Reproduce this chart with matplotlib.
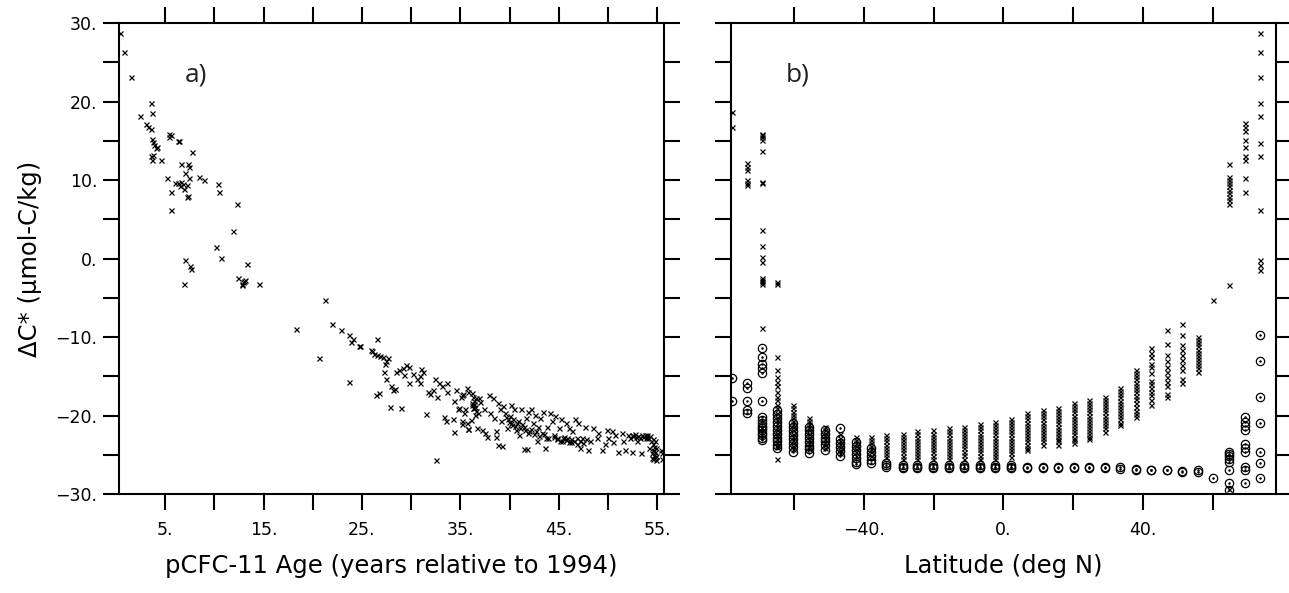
import matplotlib
matplotlib.use('Agg')
import matplotlib.pyplot as plt
from matplotlib.ticker import MultipleLocator, FuncFormatter

plt.rcParams['font.family'] = ['DejaVu Sans']

# panel a: (pCFC-11 age, delta C*) pairs
pts_young = [(0.4, 28.7), (0.8, 26.3), (1.5, 23.1), (2.4, 18.1), (3.0, 17.1), (3.3, 16.8),
             (3.55, 16.5), (3.6, 19.8), (3.7, 18.6), (3.65, 15.2), (3.75, 14.8), (3.9, 14.5),
             (4.05, 14.1), (4.15, 14.2), (3.8, 13.2), (3.55, 13.0), (3.65, 12.5), (4.55, 12.6),
             (5.35, 15.9), (5.6, 15.7), (5.4, 15.5), (6.25, 15.0), (6.4, 15.0), (7.7, 13.6),
             (6.6, 12.1), (7.35, 12.1), (7.45, 11.6), (7.05, 10.9), (5.15, 10.2), (6.0, 9.6),
             (6.3, 9.6), (6.6, 9.7), (6.8, 9.5), (6.5, 9.3), (7.2, 9.4), (7.45, 10.2),
             (8.4, 10.4), (8.95, 10.0), (10.4, 9.5), (10.5, 8.5), (5.6, 8.5), (6.9, 8.9),
             (7.25, 7.9), (7.3, 8.0), (5.6, 6.2), (12.3, 7.0), (11.85, 3.5), (10.2, 1.5),
             (10.65, 0.1), (7.05, -0.2), (7.55, -1.0), (7.6, -1.3), (13.3, -0.7), (6.95, -3.3),
             (12.35, -2.5), (12.8, -3.2), (12.9, -3.0), (13.0, -2.9), (12.85, -3.4), (13.1, -2.8),
             (14.5, -3.2)]

pts_mid = [(21.2, -5.3), (18.3, -9.0), (20.6, -12.7), (22.0, -8.3), (22.9, -9.1), (23.7, -9.7),
           (23.9, -10.6), (24.1, -10.3), (24.75, -11.1), (24.8, -11.2), (26.5, -10.3), (23.7, -15.7),
           (25.9, -11.7), (26.0, -11.8), (26.2, -12.2), (26.5, -12.3), (26.8, -12.4), (27.1, -12.6),
           (27.4, -13.0), (27.6, -12.7), (27.3, -13.4), (27.2, -14.4), (27.4, -15.3), (28.0, -16.2),
           (28.2, -16.8), (26.7, -17.1), (26.4, -17.4), (28.4, -16.6), (27.8, -18.9), (29.0, -19.0),
           (28.5, -14.4), (28.8, -14.2), (29.2, -13.9), (29.5, -13.6), (29.8, -13.8), (29.3, -14.8),
           (29.8, -15.9), (30.2, -14.7), (30.6, -15.4), (30.9, -15.0), (31.0, -14.1), (31.2, -14.5),
           (30.9, -15.8), (31.5, -19.8), (31.7, -17.0), (31.9, -17.3), (32.2, -16.8), (32.4, -15.4),
           (32.6, -17.7), (32.8, -15.8), (33.1, -16.3), (33.6, -15.8), (33.6, -17.0), (32.5, -25.7),
           (33.3, -20.2), (33.5, -20.7), (34.3, -20.5), (34.4, -22.1), (34.6, -16.8), (35.1, -17.6),
           (35.3, -17.2), (35.7, -16.5), (34.4, -18.1), (34.8, -19.2), (34.9, -19.0), (35.4, -19.7),
           (35.2, -21.1), (35.8, -21.7)]

pts_old = [(36.1, -20.6), (36.2, -18.7), (36.3, -19.0), (36.4, -18.5), (36.6, -17.8), (36.8, -19.7),
           (35.15, -17.4), (35.8, -17.0), (36.2, -17.1), (35.5, -19.2), (35.15, -20.7), (35.7, -20.9),
           (35.8, -21.7), (36.2, -18.4), (36.4, -19.0), (36.5, -19.9), (36.9, -17.8), (37.0, -18.3),
           (37.4, -19.2), (36.7, -21.6), (37.2, -21.8), (37.5, -22.2), (37.7, -22.7), (37.9, -17.4),
           (38.3, -17.8), (38.0, -19.7), (38.4, -20.3), (38.6, -22.0), (38.6, -22.7), (38.8, -18.4),
           (39.0, -19.2), (39.1, -20.7), (39.3, -18.8), (39.5, -19.7), (39.7, -21.6), (39.8, -20.5),
           (40.0, -20.1), (40.2, -18.6), (40.3, -21.2), (40.5, -19.2), (40.7, -21.8), (40.9, -20.7),
           (41.0, -22.5), (41.2, -19.2), (38.8, -23.8), (39.2, -23.9), (41.5, -24.3), (41.8, -24.3),
           (41.5, -21.4), (41.7, -20.3), (41.9, -19.5), (42.0, -22.0), (42.2, -19.2), (42.4, -21.0),
           (42.6, -19.9), (42.8, -23.2), (42.9, -21.4), (43.1, -20.3), (43.3, -22.2), (43.4, -19.5),
           (43.6, -24.1), (43.8, -21.4), (43.9, -22.9), (44.1, -19.7), (44.3, -20.7), (44.5, -22.5),
           (44.6, -20.1), (44.8, -22.9), (45.0, -21.6), (45.2, -20.5), (45.3, -23.2), (45.5, -22.7),
           (45.7, -21.0), (45.8, -22.9), (46.0, -21.6), (46.2, -23.4), (46.4, -22.0), (46.7, -20.5),
           (46.9, -22.9), (47.0, -21.0), (47.2, -24.2), (47.4, -22.9), (47.7, -21.4), (48.0, -24.4),
           (48.2, -23.2), (48.5, -21.6), (48.9, -22.9), (49.0, -22.2), (49.4, -24.4), (49.7, -23.6),
           (49.9, -21.8), (50.0, -22.9), (50.4, -22.0), (50.5, -23.4), (50.7, -22.5), (51.0, -24.6),
           (51.4, -22.2), (51.5, -23.2), (51.7, -24.4), (52.0, -22.5), (52.2, -22.9), (52.4, -24.6),
           (52.5, -22.5), (52.9, -22.7), (53.0, -23.2), (53.4, -24.8), (53.5, -22.5), (53.9, -22.9),
           (54.0, -22.5), (54.2, -24.1), (54.4, -23.2), (54.5, -24.8), (54.6, -25.6), (54.8, -23.2),
           (54.9, -25.2), (55.4, -24.4), (55.5, -24.8), (55.5, -25.5),
           (44.5, -22.7), (44.8, -23.0), (45.1, -23.3), (45.4, -22.8), (45.7, -23.1), (46.0, -23.4),
           (46.3, -23.0), (46.6, -23.3), (46.9, -23.6), (47.2, -23.2), (47.5, -23.5), (47.8, -23.0),
           (52.6, -22.6), (52.8, -22.4), (53.1, -22.6), (53.3, -22.8), (53.6, -22.7), (53.8, -22.5),
           (54.1, -22.8), (54.3, -22.6), (54.6, -23.0), (54.6, -23.6), (54.7, -24.0), (54.6, -24.4),
           (54.8, -24.7), (54.7, -25.0), (54.8, -25.3), (54.9, -25.7), (54.5, -25.4), (54.9, -24.2),
           (39.6, -20.2), (39.9, -20.8), (40.2, -21.0), (40.4, -20.4), (40.6, -21.3), (40.8, -20.9),
           (41.1, -21.6), (41.3, -21.1), (41.6, -21.8), (41.9, -22.2), (42.2, -21.7), (42.5, -22.4),
           (42.7, -22.0), (43.0, -22.6), (43.5, -22.4), (43.7, -22.8),
           (36.3, -17.6), (36.4, -18.1), (36.5, -18.9), (36.6, -19.4)]

# panel b: latitude columns, crosses and circles
lat_cols = [-77.6, -73.5, -69.0, -64.7, -60.2, -55.6, -51.1, -46.8, -42.3, -38.0, -33.5, -28.9,
            -24.7, -20.1, -15.6, -11.3, -6.8, -2.3, 2.2, 6.8, 11.2, 15.6, 20.1, 24.6, 29.0,
            33.4, 37.9, 42.3, 46.8, 51.2, 55.6, 60.1, 64.5, 69.0, 73.4]

cross_cols = [
    [18.7, 16.8],
    [12.2, 11.7, 11.3, 10.0, 9.6, 9.4],
    [15.9, 15.7, 15.5, 15.1, 13.7, 9.8, 9.6, 3.6, 1.6, 0.2, -0.4, -2.5, -2.7, -3.0, -3.2, -8.9],
    [-3.0, -3.3, -12.5, -14.2, -15.1, -15.7, -16.3, -17.0, -17.6, -18.0, -18.7, -19.1, -19.7,
     -20.2, -20.6, -21.0, -21.4, -21.8, -22.2, -22.6, -23.0, -23.4, -23.8, -24.0, -25.6],
    [-18.7, -19.1, -19.5, -19.9, -20.3, -20.7, -21.1, -21.5, -21.9, -22.3, -22.7, -23.1, -23.5,
     -23.9, -24.3],
    [-20.3, -20.7, -21.1, -21.5, -21.9, -22.3, -22.7, -23.1, -23.5, -23.9, -24.3],
    [-21.4, -21.8, -22.2, -22.6, -23.0, -23.4, -23.8, -24.2],
    [-22.4, -22.8, -23.2, -23.6, -24.0, -24.4, -24.8],
    [-22.7, -23.1, -23.5, -23.9, -24.3, -24.7, -25.1],
    [-22.7, -23.1, -23.5, -23.9, -24.3, -24.7, -25.1],
    [-22.5, -22.9, -23.3, -23.7, -24.1, -24.5, -24.9, -25.3],
    [-22.3, -22.7, -23.1, -23.5, -23.9, -24.3, -24.7, -25.1, -25.5],
    [-22.0, -22.4, -22.8, -23.2, -23.6, -24.0, -24.4, -24.8, -25.2, -25.6],
    [-21.9, -22.3, -22.7, -23.1, -23.5, -23.9, -24.3, -24.7, -25.1, -25.6],
    [-21.6, -22.0, -22.4, -22.8, -23.2, -23.6, -24.0, -24.4, -24.8, -25.2, -25.6],
    [-21.4, -21.8, -22.2, -22.6, -23.0, -23.4, -23.8, -24.2, -24.6, -25.0, -25.5],
    [-21.1, -21.5, -21.9, -22.3, -22.7, -23.1, -23.5, -23.9, -24.3, -24.7, -25.1, -25.5],
    [-20.8, -21.2, -21.6, -22.0, -22.4, -22.8, -23.2, -23.6, -24.0, -24.4, -24.8, -25.2, -25.6],
    [-20.4, -20.8, -21.2, -21.6, -22.0, -22.4, -22.8, -23.2, -23.6, -24.0, -24.4, -24.8, -25.3],
    [-19.7, -20.1, -20.5, -20.9, -21.3, -21.7, -22.1, -22.5, -22.9, -23.3, -23.7, -24.1, -24.4],
    [-19.3, -19.7, -20.1, -20.5, -20.9, -21.3, -21.7, -22.1, -22.5, -22.9, -23.3, -23.8],
    [-19.0, -19.4, -19.8, -20.2, -20.6, -21.0, -21.4, -21.8, -22.2, -22.6, -23.0, -23.3, -23.7],
    [-18.4, -18.8, -19.2, -19.6, -20.0, -20.4, -20.8, -21.2, -21.6, -22.0, -22.4, -22.8, -23.1, -23.5],
    [-18.0, -18.4, -18.8, -19.2, -19.6, -20.0, -20.4, -20.8, -21.2, -21.6, -22.0, -22.4, -22.7, -23.0],
    [-17.6, -18.0, -18.4, -18.8, -19.2, -19.6, -20.0, -20.4, -20.8, -21.2, -21.6, -22.1],
    [-16.5, -16.9, -17.3, -17.7, -18.1, -18.5, -18.9, -19.3, -19.7, -20.1, -20.5, -20.9, -21.2],
    [-14.2, -14.6, -15.0, -15.4, -15.8, -16.2, -16.6, -17.0, -17.5, -17.9, -18.4, -18.9, -19.4,
     -19.8, -20.2],
    [-11.4, -12.0, -12.5, -13.4, -13.8, -14.6, -15.6, -16.0, -16.5, -17.0, -17.4, -18.0, -18.7],
    [-9.1, -10.9, -12.3, -13.1, -13.8, -14.4, -15.1, -15.7, -16.3, -17.2, -17.6],
    [-8.3, -9.7, -11.0, -11.7, -12.3, -12.9, -13.6, -14.2, -15.3, -15.9],
    [-10.0, -10.4, -10.8, -11.2, -11.6, -12.0, -12.4, -12.8, -13.2, -13.6, -14.0, -14.4],
    [-5.3],
    [12.1, 10.4, 10.0, 9.6, 9.2, 8.7, 8.3, 7.9, 7.5, 7.0, -3.4, -29.3],
    [17.2, 16.7, 16.3, 15.1, 14.2, 13.0, 12.5, 10.2, 8.5],
    [28.7, 26.3, 23.1, 19.8, 18.1, 14.7, 13.1, 6.2, -0.2, -0.8, -1.5],
]

circle_cols = [
    [-15.2, -18.2],
    [-15.9, -16.5, -18.2, -19.3, -19.7],
    [-11.4, -12.5, -13.4, -14.0, -14.6, -18.2, -20.2, -20.6, -21.0, -21.3, -21.6, -21.9, -22.2,
     -22.5, -22.8, -23.1],
    [-19.3, -19.8, -20.3, -20.8, -21.3, -21.8, -22.3, -22.8, -23.3, -23.8, -24.1],
    [-21.0, -21.5, -22.0, -22.5, -23.0, -23.5, -24.0, -24.6],
    [-21.4, -21.9, -22.4, -22.9, -23.4, -23.9, -24.3, -24.8],
    [-21.8, -22.3, -22.8, -23.3, -23.8, -24.4],
    [-21.6, -23.0, -23.5, -24.0, -24.5, -25.1],
    [-23.4, -23.9, -24.4, -24.9, -25.4, -25.9, -26.2],
    [-24.2, -24.7, -25.2, -25.7, -26.0],
    [-26.1, -26.3, -26.5],
    [-26.3, -26.5, -26.7],
    [-26.3, -26.5, -26.7],
    [-26.3, -26.5, -26.7],
    [-26.3, -26.5, -26.7],
    [-26.3, -26.5, -26.7],
    [-26.3, -26.5, -26.7],
    [-26.3, -26.5, -26.7],
    [-26.3, -26.5, -26.7],
    [-26.5, -26.7],
    [-26.5, -26.7],
    [-26.6, -26.7],
    [-26.6, -26.7],
    [-26.6, -26.7],
    [-26.6, -26.7],
    [-26.6, -26.8],
    [-26.8, -26.9],
    [-26.9, -27.0],
    [-26.9, -27.0],
    [-27.1, -27.2],
    [-27.0, -27.2],
    [-27.9],
    [-24.6, -24.9, -25.2, -25.6, -25.9, -27.0, -28.6, -29.5],
    [-20.2, -20.8, -21.3, -21.8, -23.6, -24.2, -24.7, -26.5, -26.9, -28.6],
    [-9.7, -13.0, -17.7, -20.9, -24.6, -26.0, -28.0],
]


def fmt_num(v):
    return '{:d}.'.format(int(round(v))).replace('-', '\u2212')


def style_axes(ax, xlim, xstep, xlabel_ok, ylabels):
    ax.set_xlim(*xlim)
    ax.set_ylim(-30, 30)
    ax.xaxis.set_major_locator(MultipleLocator(xstep))
    ax.yaxis.set_major_locator(MultipleLocator(5))
    ax.xaxis.set_major_formatter(FuncFormatter(lambda v, p: fmt_num(v) if xlabel_ok(v) else ''))
    if ylabels:
        ax.yaxis.set_major_formatter(FuncFormatter(
            lambda v, p: fmt_num(v) if int(round(v)) % 10 == 0 else ''))
    else:
        ax.yaxis.set_major_formatter(FuncFormatter(lambda v, p: ''))
    ax.tick_params(which='both', direction='out', length=11.5, width=1.5,
                   top=True, right=True, labelsize=12.5, colors='black')
    ax.tick_params(axis='x', pad=8)
    ax.tick_params(axis='y', pad=4)
    for s in ax.spines.values():
        s.set_linewidth(1.5)


fig = plt.figure(figsize=(12.89, 5.93), dpi=100)
ax1 = fig.add_axes([0.0923, 0.1669, 0.4228, 0.7943])
ax2 = fig.add_axes([0.5671, 0.1669, 0.4228, 0.7943])

for pts in (pts_young, pts_mid, pts_old):
    xs, ys = zip(*pts)
    ax1.plot(xs, ys, 'x', color='black', ms=3.6, mew=0.9)

style_axes(ax1, (0.3, 55.7), 5, lambda v: int(round(v)) % 10 == 5, True)
ax1.set_xlabel('pCFC-11 Age (years relative to 1994)', fontsize=17.5, labelpad=11)
ax1.set_ylabel('\u0394C* (\u03bcmol-C/kg)', fontsize=17.5, labelpad=10)
ax1.text(0.12, 0.875, 'a)', transform=ax1.transAxes, fontsize=19,
         family=['Open Sans', 'DejaVu Sans'], color='#222222')

for lat, cr, ci in zip(lat_cols, cross_cols, circle_cols):
    ax2.plot([lat] * len(cr), cr, 'x', color='black', ms=3.6, mew=0.9)
    ax2.plot([lat] * len(ci), ci, 'o', color='black', mfc='none', ms=6, mew=0.9)
    ax2.plot([lat] * len(ci), ci, '.', color='black', ms=1.6)

style_axes(ax2, (-78, 78), 20, lambda v: int(round(v)) % 40 == 0, False)
ax2.set_xlabel('Latitude (deg N)', fontsize=17.5, labelpad=11)
ax2.text(0.1, 0.875, 'b)', transform=ax2.transAxes, fontsize=19,
         family=['Open Sans', 'DejaVu Sans'], color='#222222')

fig.savefig('out.png', dpi=100)
